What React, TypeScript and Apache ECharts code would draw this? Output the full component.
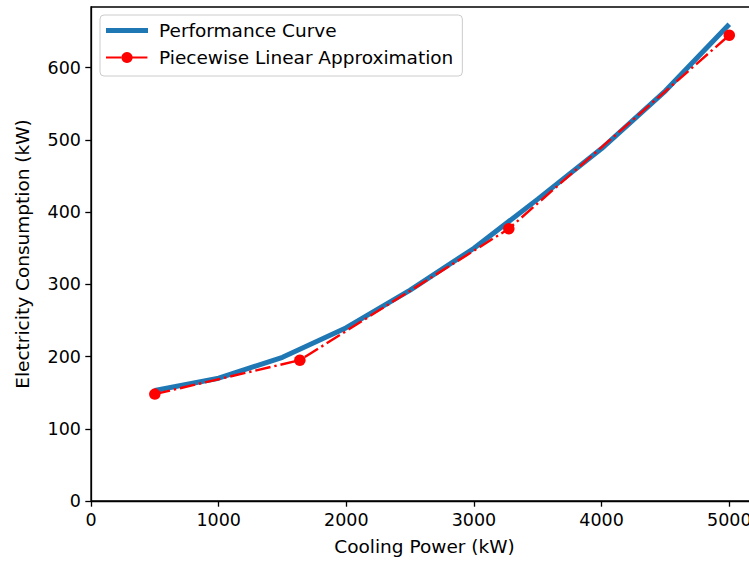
import React, { useEffect, useRef } from "react";
import * as echarts from "echarts";

const perfX = [500, 1000, 1500, 2000, 2500, 3000, 3500, 4000, 4500, 5000];
const perfY = [153, 170, 199, 240, 292, 350, 418, 488, 568, 660];
const pwlX = [500, 1636, 3273, 5000];
const pwlY = [148, 195, 377, 645];
const xTicks = [0, 1000, 2000, 3000, 4000, 5000];
const yTicks = [0, 100, 200, 300, 400, 500, 600];

const FONT = "DejaVu Sans";
const DASHDOT = [15.6, 3.9, 2.4, 3.9];

export default function App() {
  const ref = useRef<HTMLDivElement>(null);
  useEffect(() => {
    if (!ref.current) return;
    const chart = echarts.init(ref.current, undefined, { renderer: "svg" });
    chart.setOption({
      animation: false,
      backgroundColor: "#ffffff",
      textStyle: { fontFamily: FONT },
      grid: {
        left: 91,
        top: 7,
        width: 667,
        height: 496,
        show: true,
        borderColor: "#000",
        borderWidth: 1.3,
        containLabel: false,
      },
      legend: {
        orient: "vertical",
        left: 100,
        top: 15,
        padding: [6, 9, 9, 5],
        itemWidth: 42,
        itemHeight: 14,
        itemGap: 8,
        backgroundColor: "rgba(255,255,255,0.8)",
        borderColor: "#cccccc",
        borderWidth: 1,
        borderRadius: 4,
        lineStyle: { type: DASHDOT, cap: "butt" },
        textStyle: {
          fontFamily: FONT,
          fontSize: 18.5,
          color: "#000",
          lineHeight: 18,
          padding: [0, 0, 0, 6],
        },
        data: [
          { name: "Performance Curve", icon: "path://M0 0H42V5H0Z" },
          { name: "Piecewise Linear Approximation" },
        ],
      },
      xAxis: {
        type: "value",
        min: 0,
        max: 5225,
        name: "Cooling Power (kW)",
        nameLocation: "middle",
        nameGap: 36,
        nameTextStyle: { fontFamily: FONT, fontSize: 18.5, color: "#000" },
        splitLine: { show: false },
        axisLine: { show: true, lineStyle: { color: "#000", width: 1.3 } },
        axisTick: {
          show: true,
          length: 5.7,
          lineStyle: { color: "#000", width: 1.3 },
          customValues: xTicks,
        },
        axisLabel: {
          fontFamily: FONT,
          fontSize: 17.5,
          color: "#000",
          margin: 10,
          customValues: xTicks,
          formatter: (v: number) => String(v),
        },
      },
      yAxis: {
        type: "value",
        min: 0,
        max: 684,
        name: "Electricity Consumption (kW)",
        nameLocation: "middle",
        nameGap: 59,
        nameTextStyle: { fontFamily: FONT, fontSize: 18.5, color: "#000" },
        splitLine: { show: false },
        axisLine: { show: true, lineStyle: { color: "#000", width: 1.3 } },
        axisTick: {
          show: true,
          length: 5.7,
          lineStyle: { color: "#000", width: 1.3 },
          customValues: yTicks,
        },
        axisLabel: {
          fontFamily: FONT,
          fontSize: 17.5,
          color: "#000",
          margin: 10,
          customValues: yTicks,
          formatter: (v: number) => String(v),
        },
      },
      series: [
        {
          name: "Performance Curve",
          type: "line",
          data: perfX.map((x, i) => [x, perfY[i]]),
          showSymbol: false,
          symbol: "none",
          lineStyle: { color: "#1f77b4", width: 5 },
          itemStyle: { color: "#1f77b4" },
          z: 2,
        },
        {
          name: "Piecewise Linear Approximation",
          type: "line",
          data: pwlX.map((x, i) => [x, pwlY[i]]),
          symbol: "circle",
          symbolSize: 11.5,
          showSymbol: true,
          lineStyle: {
            color: "#ff0000",
            width: 2.4,
            type: DASHDOT,
            cap: "butt",
          },
          itemStyle: { color: "#ff0000", borderWidth: 0 },
          z: 3,
        },
      ],
    });
    return () => chart.dispose();
  }, []);
  return (
    <div
      style={{
        position: "absolute",
        left: 0,
        top: 0,
        width: 749,
        height: 561,
        overflow: "hidden",
        background: "#fff",
      }}
    >
      <div ref={ref} style={{ width: 775, height: 561 }} />
    </div>
  );
}
